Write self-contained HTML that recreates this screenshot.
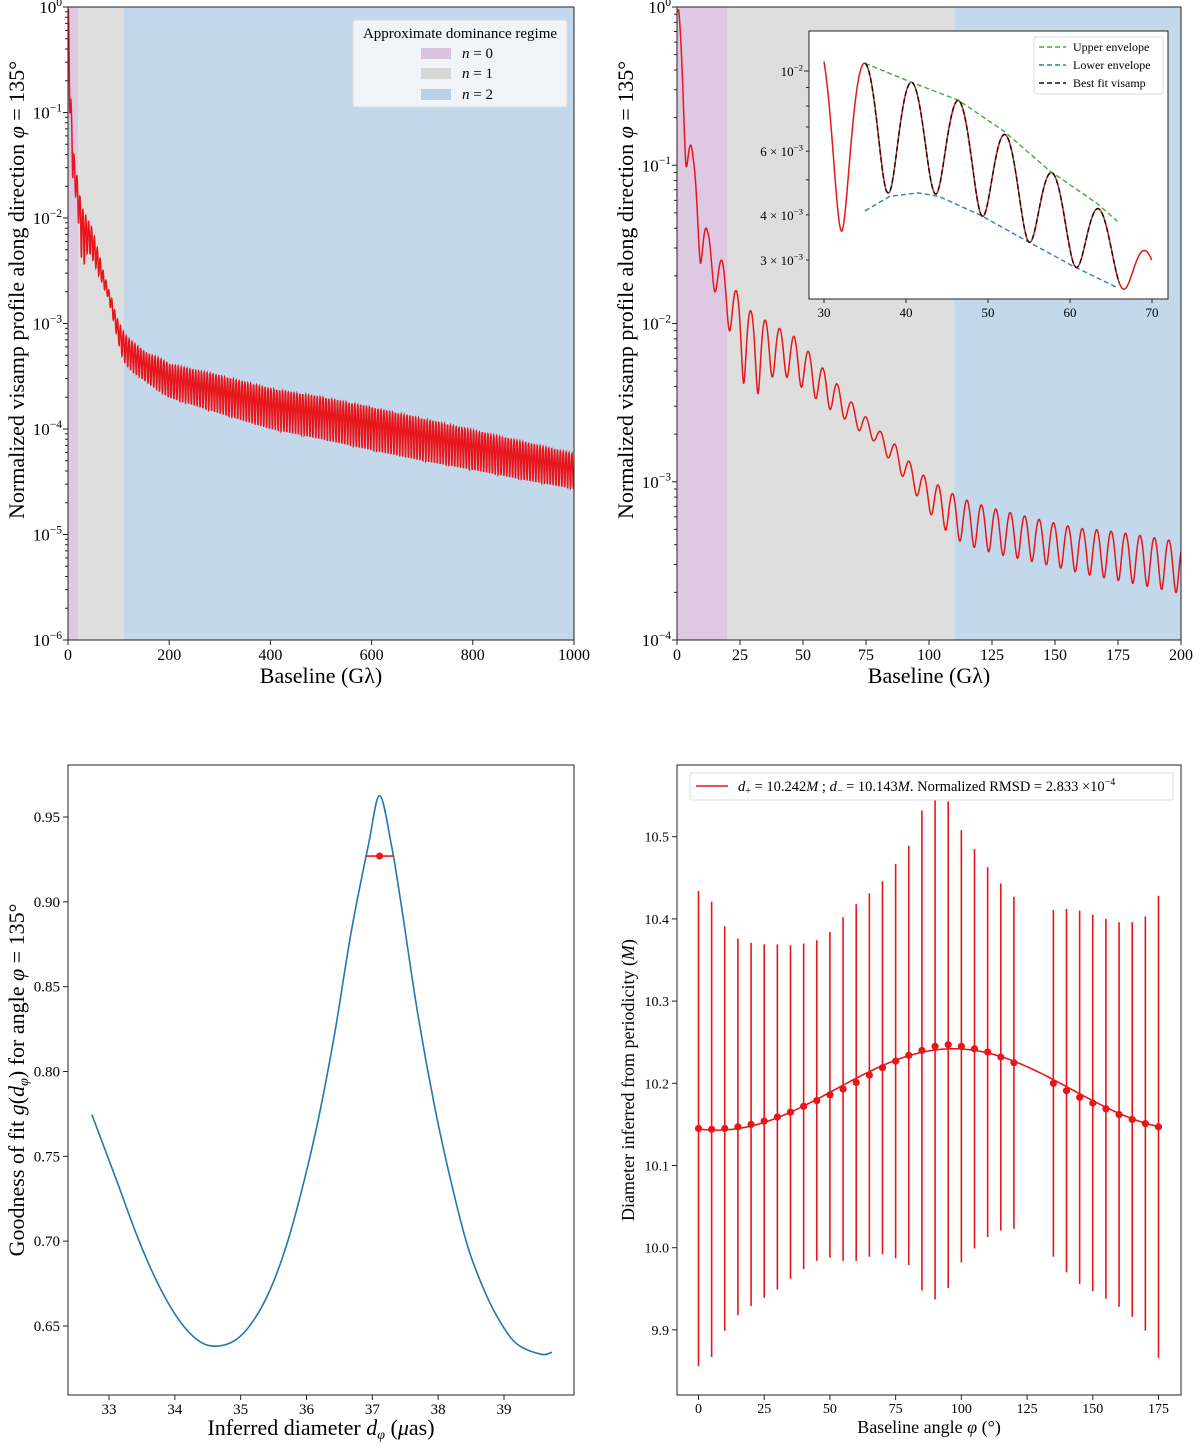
<!DOCTYPE html>
<html><head><meta charset="utf-8"><style>
html,body{margin:0;padding:0;background:#fff}
svg{display:block;font-family:"Liberation Serif","DejaVu Serif",serif}
</style></head><body>
<svg id="fig" width="1200" height="1450" viewBox="0 0 1200 1450" xmlns="http://www.w3.org/2000/svg">
<defs>
<clipPath id="cTL"><rect x="68" y="7" width="506" height="633"/></clipPath>
<clipPath id="cTR"><rect x="677" y="7" width="504" height="633"/></clipPath>
<clipPath id="cIN"><rect x="809" y="31" width="359" height="268"/></clipPath>
<clipPath id="cBL"><rect x="68" y="765" width="506" height="630"/></clipPath>
<clipPath id="cBR"><rect x="677" y="765" width="504" height="630"/></clipPath>
</defs>
<g id="tl"></g>
<g id="tr"></g>
<g id="bl"></g>
<g id="br"></g>

<text x="0" y="0" font-size="22" text-anchor="middle" transform="translate(24,290) rotate(-90)">Normalized visamp profile along direction <tspan font-style="italic">φ</tspan> = 135°</text>
<text x="321" y="683" font-size="22" text-anchor="middle">Baseline (Gλ)</text>
<text x="0" y="0" font-size="22" text-anchor="middle" transform="translate(633,290) rotate(-90)">Normalized visamp profile along direction <tspan font-style="italic">φ</tspan> = 135°</text>
<text x="929" y="683" font-size="22" text-anchor="middle">Baseline (Gλ)</text>
<text x="0" y="0" font-size="22" text-anchor="middle" transform="translate(24,1080) rotate(-90)">Goodness of fit <tspan font-style="italic">g</tspan>(<tspan font-style="italic">d</tspan><tspan font-style="italic" font-size="14" dy="4">φ</tspan><tspan dy="-4">) for angle </tspan><tspan font-style="italic">φ</tspan> = 135°</text>
<text x="321" y="1435" font-size="22" text-anchor="middle">Inferred diameter <tspan font-style="italic">d</tspan><tspan font-style="italic" font-size="14" dy="4">φ</tspan><tspan dy="-4"> (</tspan><tspan font-style="italic">μ</tspan>as)</text>
<text x="0" y="0" font-size="18" text-anchor="middle" transform="translate(634,1080) rotate(-90)">Diameter inferred from periodicity (<tspan font-style="italic">M</tspan>)</text>
<text x="929" y="1433" font-size="18" text-anchor="middle">Baseline angle <tspan font-style="italic">φ</tspan> (°)</text>
</svg>
<script>
// ---------- data: visamp envelopes (baseline Gλ, normalized visamp) ----------
const upperX = [0,0.7,6.4,12.1,17.8,23.5,29.3,35,40.7,46.4,52,57.5,63.3,69.1,74.6,80.4,86.9,92.9,99.2,105.3,111.6,117.6,123.6,135.6,147.3,159,171,183,194.5,200.4,300,400,500,600,700,800,900,1000];
const upperV = [1.0,0.95,0.11,0.038,0.025,0.0161,0.012,0.0105,0.0093,0.0083,0.0067,0.0053,0.0042,0.0032,0.0026,0.0021,0.0017,0.0013,0.00105,0.00092,0.0008,0.00074,0.00069,0.00062,0.00056,0.00051,0.00049,0.00046,0.00043,0.00041,3.2e-4,2.4e-4,2.0e-4,1.6e-4,1.25e-4,9.7e-5,7.5e-5,5.8e-5];
const lowerX = [0,3.55,9.3,15.8,20.7,26.4,32.2,37.8,43.3,49,54.6,60.2,66.4,72.3,78.3,84,90.3,96.3,102.2,108.5,114.5,126.6,138.6,150.2,162.2,174,185.8,197.5,300,400,500,600,700,800,900,1000];
const lowerV = [0.5,0.1,0.024,0.015,0.0091,0.0042,0.0036,0.0046,0.0046,0.0040,0.0034,0.0029,0.0025,0.0021,0.0018,0.0014,0.00104,0.00077,0.00058,0.00046,0.0004,0.00035,0.00032,0.00029,0.00026,0.00024,0.00022,0.0002,1.4e-4,1.0e-4,8e-5,6.3e-5,5e-5,4.1e-5,3.3e-5,2.7e-5];
const firstPeak = 35;
const period = 5.72;
const regimeNames = ['n = 0','n = 1','n = 2'];
const regimeStart = [0,20,110];
const regimeEnd = [20,110,1000];
const regimeColors = ['#dfc9e2','#dedede','#c3d8ea'];
// inset envelope fits
const greenX = [35,40.7,46.4,52,57.5,63.3,66];
const greenV = [0.0105,0.0093,0.0083,0.0068,0.0053,0.0043,0.0038];
const blueX = [35,38,41.5,44,49,54.6,60.2,66];
const blueV = [0.0041,0.0045,0.0046,0.0045,0.0040,0.0034,0.0029,0.0025];
// goodness of fit
const gofD = [32.74,33.14,33.39,33.64,33.90,34.15,34.40,34.63,34.91,35.16,35.42,35.67,35.92,36.18,36.43,36.68,36.94,37.11,37.29,37.44,37.69,37.95,38.20,38.45,38.71,38.96,39.21,39.57,39.73];
const gofG = [0.7746,0.7332,0.7067,0.6834,0.6635,0.6491,0.6403,0.6381,0.6414,0.6513,0.6690,0.6944,0.7288,0.7719,0.8229,0.8825,0.9334,0.9626,0.9334,0.898,0.834,0.7786,0.7343,0.6967,0.6701,0.6513,0.639,0.6333,0.6346];
const bestD = [37.11];
const bestG = [0.927];
const bestErr = [0.213];
// diameter vs angle
const angles = [0,5,10,15,20,25,30,35,40,45,50,55,60,65,70,75,80,85,90,95,100,105,110,115,120,135,140,145,150,155,160,165,170,175];
const diam = [10.145,10.144,10.145,10.147,10.150,10.154,10.159,10.165,10.172,10.179,10.186,10.193,10.201,10.210,10.219,10.227,10.234,10.240,10.245,10.247,10.245,10.242,10.238,10.232,10.225,10.200,10.191,10.183,10.176,10.169,10.162,10.156,10.151,10.147];
const diamUpper = [10.434,10.421,10.391,10.376,10.371,10.369,10.369,10.368,10.370,10.374,10.384,10.402,10.418,10.431,10.446,10.467,10.489,10.532,10.553,10.543,10.508,10.485,10.463,10.443,10.427,10.411,10.412,10.410,10.405,10.400,10.396,10.396,10.403,10.428];
const fitParams = [10.1925, 0.0495, 97]; // mean, amplitude, phase (deg)

const NS='http://www.w3.org/2000/svg';
function mk(tag, attrs, parent){const e=document.createElementNS(NS,tag);for(const k in attrs)e.setAttribute(k,attrs[k]);parent.appendChild(e);return e;}
function interpLog(xs,vs,x){
  if(x<=xs[0])return vs[0];
  for(let i=1;i<xs.length;i++){if(x<=xs[i]){const t=(x-xs[i-1])/(xs[i]-xs[i-1]);return Math.pow(10,Math.log10(vs[i-1])+t*(Math.log10(vs[i])-Math.log10(vs[i-1])));}}
  return vs[vs.length-1];
}
function visamp(x){const u=interpLog(upperX,upperV,x),l=interpLog(lowerX,lowerV,x);const c=Math.cos(Math.PI*(x-firstPeak)/period);return l+(u-l)*c*c;}
function linScale(d0,d1,r0,r1){return v=>r0+(v-d0)/(d1-d0)*(r1-r0);}
function logScale(e0,e1,r0,r1){return v=>r0+(Math.log10(v)-e0)/(e1-e0)*(r1-r0);}
function pathFrom(pts){return pts.map((p,i)=>(i?'L':'M')+p[0].toFixed(2)+','+p[1].toFixed(2)).join('');}
function supLabel(g,x,y,base,exp,size,anchor){
  const t=mk('text',{x:x,y:y,'font-size':size,'text-anchor':anchor||'end'},g);
  
  
  const a=mk('tspan',{},t);a.textContent=base;
  const b=mk('tspan',{dy:-size*0.42,'font-size':size*0.68},t);b.textContent=exp;
  return t;
}

// ---------------- top panels ----------------
function topPanel(gid,clip,X0,X1,dmax,emin,xticks){
  const g=document.getElementById(gid);
  const sx=linScale(0,dmax,X0,X1), sy=logScale(emin,0,640,7);
  for(let i=0;i<regimeNames.length;i++){
    const a=sx(regimeStart[i]), b=Math.min(sx(Math.min(regimeEnd[i],dmax)),X1);
    const r=mk('rect',{x:a,y:7,width:Math.max(0,b-a),height:633,fill:regimeColors[i]},g);
    
    
  }
  const pts=[];const step=dmax/4000;
  for(let x=0;x<=dmax;x+=step)pts.push([sx(x),sy(visamp(x))]);
  const p=mk('path',{d:pathFrom(pts),fill:'none',stroke:'#e8161b','stroke-width':1.5,'clip-path':'url(#'+clip+')'},g);
  
  
  const f=mk('rect',{x:X0,y:7,width:X1-X0,height:633,fill:'none',stroke:'#222','stroke-width':1},g);
  
  
  for(let e=emin;e<=0;e++){
    const y=sy(Math.pow(10,e));
    const t=mk('line',{x1:X0-5,x2:X0,y1:y,y2:y,stroke:'#222'},g);
    
    
    supLabel(g,X0-6,y+6,'10',e===0?'0':'−'+(-e),17);
    if(e<0)for(let m=2;m<10;m++){const ym=sy(m*Math.pow(10,e));
      const mt=mk('line',{x1:X0-3,x2:X0,y1:ym,y2:ym,stroke:'#222'},g);
      
      }
  }
  xticks.forEach(v=>{const x=sx(v);
    const t=mk('line',{x1:x,x2:x,y1:640,y2:645,stroke:'#222'},g);
    
    
    const l=mk('text',{x:x,y:660,'font-size':16,'text-anchor':'middle'},g);
    
    
    l.textContent=v;});
  return g;
}
const gtl=topPanel('tl','cTL',68,574,1000,-6,[0,200,400,600,800,1000]);
const gtr=topPanel('tr','cTR',677,1181,200,-4,[0,25,50,75,100,125,150,175,200]);

// legend top-left
(function(){
  const g=mk('g',{},gtl);
  
  
  const b=mk('rect',{x:353,y:20,width:214,height:87,rx:3,fill:'#f4f6fa',stroke:'#ddd','fill-opacity':0.92},g);
  
  
  const t=mk('text',{x:460,y:38,'font-size':15,'text-anchor':'middle'},g);
  
  
  t.textContent='Approximate dominance regime';
  const ys=[53,73,94];
  const sw=['#d9c2de','#d6d6d6','#b9d1e8'];
  for(let i=0;i<3;i++){
    const r=mk('rect',{x:421,y:ys[i]-5,width:30,height:11,fill:sw[i]},g);
    
    
    const l=mk('text',{x:462,y:ys[i]+5,'font-size':15},g);
    
    
    const a=mk('tspan',{'font-style':'italic'},l);a.textContent='n';
    const c=mk('tspan',{},l);c.textContent=' = '+i;
  }
})();

// inset
(function(){
  const g=mk('g',{},gtr);
  
  
  const sx=linScale(30,70,824,1152), sy=v=>71-(Math.log10(v)+2)*361.5;
  const bg=mk('rect',{x:809,y:31,width:359,height:268,fill:'#fff'},g);
  
  
  const pts=[];for(let x=30;x<=70;x+=0.04)pts.push([sx(x),sy(visamp(x))]);
  const red=mk('path',{d:pathFrom(pts),fill:'none',stroke:'#e8161b','stroke-width':1.5,'clip-path':'url(#cIN)'},g);
  
  
  const gp=[];for(let x=35;x<=66;x+=0.2)gp.push([sx(x),sy(interpLog(greenX,greenV,x))]);
  const gr=mk('path',{d:pathFrom(gp),fill:'none',stroke:'#3cb034','stroke-width':1.4,'stroke-dasharray':'5,3'},g);
  
  
  const bp=[];for(let x=35;x<=66;x+=0.2)bp.push([sx(x),sy(interpLog(blueX,blueV,x))]);
  const bl=mk('path',{d:pathFrom(bp),fill:'none',stroke:'#2f7fc4','stroke-width':1.4,'stroke-dasharray':'5,3'},g);
  
  
  const kp=[];for(let x=35;x<=66;x+=0.04)kp.push([sx(x),sy(visamp(x))]);
  const bk=mk('path',{d:pathFrom(kp),fill:'none',stroke:'#111','stroke-width':1.5,'stroke-dasharray':'5,3'},g);
  
  
  const fr=mk('rect',{x:809,y:31,width:359,height:268,fill:'none',stroke:'#222'},g);
  
  
  [30,40,50,60,70].forEach(v=>{const x=sx(v);
    const t=mk('line',{x1:x,x2:x,y1:299,y2:303,stroke:'#222'},g);
    
    
    const l=mk('text',{x:x,y:317,'font-size':13,'text-anchor':'middle'},g);
    
    
    l.textContent=v;});
  [0.003,0.004,0.005,0.006,0.007,0.008,0.009,0.01].forEach(v=>{const y=sy(v);
    const t=mk('line',{x1:v===0.01?804:806,x2:809,y1:y,y2:y,stroke:'#222'},g);
    
    });
  supLabel(g,803,sy(0.01)+5,'10','−2',13);
  [[0.006,'6'],[0.004,'4'],[0.003,'3']].forEach(a=>{supLabel(g,803,sy(a[0])+5,a[1]+' × 10','−3',13);});
  const lg=mk('rect',{x:1034,y:37,width:129,height:57,rx:2,fill:'#fff',stroke:'#ddd'},g);
  
  
  const ent=[['Upper envelope','#3cb034'],['Lower envelope','#2f7fc4'],['Best fit visamp','#111']];
  ent.forEach((e,i)=>{const y=47+i*18;
    const ln=mk('line',{x1:1039,x2:1066,y1:y,y2:y,stroke:e[1],'stroke-width':1.5,'stroke-dasharray':'5,3'},g);
    
    
    const t=mk('text',{x:1073,y:y+4,'font-size':12},g);
    
    
    t.textContent=e[0];});
})();

// ---------------- bottom-left ----------------
(function(){
  const g=document.getElementById('bl');
  const sx=linScale(33,39,109,504), sy=linScale(0.95,0.65,817,1326);
  const P=gofD.map((d,i)=>[sx(d),sy(gofG[i])]);
  let d='M'+P[0][0]+','+P[0][1];
  for(let i=0;i<P.length-1;i++){const p0=P[Math.max(0,i-1)],p1=P[i],p2=P[i+1],p3=P[Math.min(P.length-1,i+2)];
    d+='C'+(p1[0]+(p2[0]-p0[0])/6).toFixed(2)+','+(p1[1]+(p2[1]-p0[1])/6).toFixed(2)+' '+(p2[0]-(p3[0]-p1[0])/6).toFixed(2)+','+(p2[1]-(p3[1]-p1[1])/6).toFixed(2)+' '+p2[0].toFixed(2)+','+p2[1].toFixed(2);}
  const c=mk('path',{d:d,fill:'none',stroke:'#1f77b4','stroke-width':1.6,'clip-path':'url(#cBL)'},g);
  
  
  bestD.forEach((v,i)=>{
    const e=mk('line',{x1:sx(v-bestErr[i]),x2:sx(v+bestErr[i]),y1:sy(bestG[i]),y2:sy(bestG[i]),stroke:'#e8161b','stroke-width':1.6},g);
    
    
    const pt=mk('circle',{cx:sx(v),cy:sy(bestG[i]),r:3.5,fill:'#e8161b'},g);
    
    
  });
  const f=mk('rect',{x:68,y:765,width:506,height:630,fill:'none',stroke:'#222'},g);
  
  
  [33,34,35,36,37,38,39].forEach(v=>{const x=sx(v);
    const t=mk('line',{x1:x,x2:x,y1:1395,y2:1400,stroke:'#222'},g);
    
    
    const l=mk('text',{x:x,y:1414,'font-size':15,'text-anchor':'middle'},g);
    
    
    l.textContent=v;});
  [0.65,0.70,0.75,0.80,0.85,0.90,0.95].forEach(v=>{const y=sy(v);
    const t=mk('line',{x1:63,x2:68,y1:y,y2:y,stroke:'#222'},g);
    
    
    const l=mk('text',{x:60,y:y+5,'font-size':15,'text-anchor':'end'},g);
    
    
    l.textContent=v.toFixed(2);});
})();

// ---------------- bottom-right ----------------
(function(){
  const g=document.getElementById('br');
  const sx=linScale(0,175,698.5,1158.5), sy=linScale(10.5,10.2,836.7,1083.3);
  const gc=mk('g',{'clip-path':'url(#cBR)'},g);
  angles.forEach((a,i)=>{const h=diamUpper[i]-diam[i];
    const e=mk('line',{x1:sx(a),x2:sx(a),y1:sy(diamUpper[i]),y2:sy(diam[i]-h),stroke:'#e8161b','stroke-width':1.6},gc);
    
    });
  const fp=[];for(let a=0;a<=175;a+=1)fp.push([sx(a),sy(fitParams[0]+fitParams[1]*Math.cos(2*(a-fitParams[2])*Math.PI/180))]);
  const fl=mk('path',{d:pathFrom(fp),fill:'none',stroke:'#e8161b','stroke-width':1.6},gc);
  
  
  angles.forEach((a,i)=>{
    const c=mk('circle',{cx:sx(a),cy:sy(diam[i]),r:3.6,fill:'#e8161b'},gc);
    
    });
  const f=mk('rect',{x:677,y:765,width:504,height:630,fill:'none',stroke:'#222'},g);
  
  
  [0,25,50,75,100,125,150,175].forEach(v=>{const x=sx(v);
    const t=mk('line',{x1:x,x2:x,y1:1395,y2:1400,stroke:'#222'},g);
    
    
    const l=mk('text',{x:x,y:1413,'font-size':14,'text-anchor':'middle'},g);
    
    
    l.textContent=v;});
  [9.9,10.0,10.1,10.2,10.3,10.4,10.5].forEach(v=>{const y=sy(v);
    const t=mk('line',{x1:672,x2:677,y1:y,y2:y,stroke:'#222'},g);
    
    
    const l=mk('text',{x:669,y:y+5,'font-size':14,'text-anchor':'end'},g);
    
    
    l.textContent=v.toFixed(1);});
  const lb=mk('rect',{x:690,y:773,width:483,height:27,rx:2,fill:'#fff',stroke:'#ddd'},g);
  
  
  const ll=mk('line',{x1:696,x2:728,y1:786,y2:786,stroke:'#e8161b','stroke-width':1.6},g);
  
  
  const lt=mk('text',{x:738,y:791,'font-size':14.5},g);
  
  
  lt.innerHTML='<tspan font-style="italic">d</tspan><tspan font-size="10" dy="3">+</tspan><tspan dy="-3"> = 10.242</tspan><tspan font-style="italic">M</tspan> ; <tspan font-style="italic">d</tspan><tspan font-size="10" dy="3">−</tspan><tspan dy="-3"> = 10.143</tspan><tspan font-style="italic">M</tspan>. Normalized RMSD = 2.833 ×10<tspan font-size="10" dy="-6">−4</tspan>';
})();
</script>
</body></html>
